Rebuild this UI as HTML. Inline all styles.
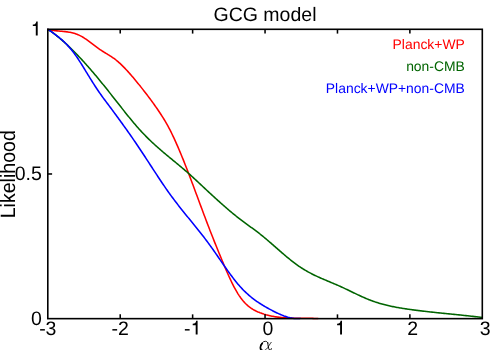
<!DOCTYPE html>
<html><head><meta charset="utf-8"><style>
html,body{margin:0;padding:0;background:#fff;}
body{width:500px;height:350px;overflow:hidden;}
svg{display:block;will-change:transform;}
text{font-family:"Liberation Sans",sans-serif;text-rendering:geometricPrecision;}
</style></head><body>
<svg width="500" height="350" viewBox="0 0 500 350">
<g fill="none" stroke-width="1.55" stroke-linejoin="round" stroke-linecap="round">
<path d="M48.00,29.40 L49.00,29.65 L50.00,29.87 L51.00,30.06 L52.00,30.24 L53.00,30.40 L54.00,30.54 L55.00,30.67 L56.00,30.78 L57.00,30.89 L58.00,30.99 L59.00,31.08 L60.00,31.17 L61.00,31.26 L62.00,31.35 L63.00,31.44 L64.00,31.54 L65.00,31.64 L66.00,31.76 L67.00,31.88 L68.00,32.03 L69.00,32.18 L70.00,32.36 L71.00,32.55 L72.00,32.77 L73.00,33.02 L74.00,33.29 L75.00,33.59 L76.00,33.92 L77.00,34.28 L78.00,34.68 L79.00,35.12 L80.00,35.60 L81.00,36.11 L82.00,36.67 L83.00,37.26 L84.00,37.89 L85.00,38.54 L86.00,39.22 L87.00,39.93 L88.00,40.65 L89.00,41.38 L90.00,42.13 L91.00,42.89 L92.00,43.65 L93.00,44.42 L94.00,45.18 L95.00,45.94 L96.00,46.70 L97.00,47.44 L98.00,48.16 L99.00,48.87 L100.00,49.56 L101.00,50.23 L102.00,50.87 L103.00,51.50 L104.00,52.12 L105.00,52.73 L106.00,53.33 L107.00,53.94 L108.00,54.54 L109.00,55.16 L110.00,55.79 L111.00,56.43 L112.00,57.09 L113.00,57.78 L114.00,58.49 L115.00,59.23 L116.00,60.01 L117.00,60.82 L118.00,61.67 L119.00,62.55 L120.00,63.45 L121.00,64.39 L122.00,65.35 L123.00,66.34 L124.00,67.36 L125.00,68.39 L126.00,69.45 L127.00,70.53 L128.00,71.63 L129.00,72.75 L130.00,73.88 L131.00,75.03 L132.00,76.19 L133.00,77.37 L134.00,78.55 L135.00,79.75 L136.00,80.95 L137.00,82.16 L138.00,83.39 L139.00,84.62 L140.00,85.86 L141.00,87.11 L142.00,88.37 L143.00,89.63 L144.00,90.91 L145.00,92.20 L146.00,93.50 L147.00,94.81 L148.00,96.13 L149.00,97.46 L150.00,98.81 L151.00,100.16 L152.00,101.53 L153.00,102.90 L154.00,104.29 L155.00,105.69 L156.00,107.11 L157.00,108.54 L158.00,109.99 L159.00,111.47 L160.00,112.96 L161.00,114.49 L162.00,116.05 L163.00,117.64 L164.00,119.27 L165.00,120.94 L166.00,122.65 L167.00,124.41 L168.00,126.21 L169.00,128.07 L170.00,129.98 L171.00,131.95 L172.00,133.97 L173.00,136.05 L174.00,138.17 L175.00,140.35 L176.00,142.56 L177.00,144.83 L178.00,147.13 L179.00,149.47 L180.00,151.84 L181.00,154.25 L182.00,156.69 L183.00,159.16 L184.00,161.66 L185.00,164.19 L186.00,166.73 L187.00,169.31 L188.00,171.90 L189.00,174.51 L190.00,177.13 L191.00,179.78 L192.00,182.43 L193.00,185.10 L194.00,187.78 L195.00,190.46 L196.00,193.15 L197.00,195.85 L198.00,198.54 L199.00,201.24 L200.00,203.94 L201.00,206.63 L202.00,209.32 L203.00,212.00 L204.00,214.67 L205.00,217.33 L206.00,219.98 L207.00,222.61 L208.00,225.23 L209.00,227.84 L210.00,230.42 L211.00,232.99 L212.00,235.54 L213.00,238.07 L214.00,240.59 L215.00,243.09 L216.00,245.58 L217.00,248.05 L218.00,250.51 L219.00,252.96 L220.00,255.39 L221.00,257.81 L222.00,260.22 L223.00,262.62 L224.00,264.99 L225.00,267.35 L226.00,269.68 L227.00,271.98 L228.00,274.24 L229.00,276.47 L230.00,278.64 L231.00,280.77 L232.00,282.84 L233.00,284.85 L234.00,286.80 L235.00,288.67 L236.00,290.47 L237.00,292.18 L238.00,293.81 L239.00,295.36 L240.00,296.82 L241.00,298.20 L242.00,299.51 L243.00,300.74 L244.00,301.89 L245.00,302.97 L246.00,303.98 L247.00,304.93 L248.00,305.81 L249.00,306.63 L250.00,307.40 L251.00,308.11 L252.00,308.77 L253.00,309.39 L254.00,309.97 L255.00,310.50 L256.00,311.01 L257.00,311.48 L258.00,311.92 L259.00,312.33 L260.00,312.73 L261.00,313.10 L262.00,313.46 L263.00,313.80 L264.00,314.13 L265.00,314.43 L266.00,314.73 L267.00,315.00 L268.00,315.26 L269.00,315.51 L270.00,315.74 L271.00,315.96 L272.00,316.17 L273.00,316.36 L274.00,316.54 L275.00,316.71 L276.00,316.86 L277.00,317.01 L278.00,317.14 L279.00,317.27 L280.00,317.38 L281.00,317.48 L282.00,317.58 L283.00,317.67 L284.00,317.74 L285.00,317.81 L286.00,317.88 L287.00,317.93 L288.00,317.98 L289.00,318.03 L290.00,318.07 L291.00,318.10 L292.00,318.13 L293.00,318.15 L294.00,318.17 L295.00,318.19 L296.00,318.20 L297.00,318.21 L298.00,318.22 L299.00,318.23 L300.00,318.23 L301.00,318.24 L302.00,318.24 L303.00,318.25 L304.00,318.25 L305.00,318.26 L306.00,318.26 L307.00,318.27 L308.00,318.28 L309.00,318.30 L310.00,318.31 L311.00,318.33 L312.00,318.35 L313.00,318.38 L314.00,318.41 L315.00,318.45 L316.00,318.45 L317.00,318.45 L318.00,318.45" stroke="#ff0000"/>
<path d="M48.00,29.40 L49.00,30.07 L50.00,30.76 L51.00,31.47 L52.00,32.19 L53.00,32.93 L54.00,33.68 L55.00,34.44 L56.00,35.22 L57.00,36.02 L58.00,36.82 L59.00,37.65 L60.00,38.48 L61.00,39.33 L62.00,40.19 L63.00,41.07 L64.00,41.95 L65.00,42.85 L66.00,43.77 L67.00,44.69 L68.00,45.63 L69.00,46.58 L70.00,47.54 L71.00,48.51 L72.00,49.49 L73.00,50.48 L74.00,51.49 L75.00,52.50 L76.00,53.53 L77.00,54.56 L78.00,55.60 L79.00,56.66 L80.00,57.72 L81.00,58.80 L82.00,59.88 L83.00,60.97 L84.00,62.07 L85.00,63.18 L86.00,64.29 L87.00,65.42 L88.00,66.55 L89.00,67.69 L90.00,68.84 L91.00,69.99 L92.00,71.15 L93.00,72.32 L94.00,73.50 L95.00,74.68 L96.00,75.87 L97.00,77.07 L98.00,78.27 L99.00,79.48 L100.00,80.69 L101.00,81.91 L102.00,83.14 L103.00,84.37 L104.00,85.60 L105.00,86.84 L106.00,88.09 L107.00,89.34 L108.00,90.60 L109.00,91.86 L110.00,93.12 L111.00,94.38 L112.00,95.65 L113.00,96.92 L114.00,98.19 L115.00,99.46 L116.00,100.73 L117.00,102.01 L118.00,103.28 L119.00,104.55 L120.00,105.82 L121.00,107.09 L122.00,108.36 L123.00,109.63 L124.00,110.89 L125.00,112.15 L126.00,113.40 L127.00,114.65 L128.00,115.89 L129.00,117.13 L130.00,118.36 L131.00,119.58 L132.00,120.79 L133.00,121.99 L134.00,123.17 L135.00,124.35 L136.00,125.52 L137.00,126.67 L138.00,127.80 L139.00,128.93 L140.00,130.03 L141.00,131.12 L142.00,132.20 L143.00,133.26 L144.00,134.30 L145.00,135.33 L146.00,136.35 L147.00,137.36 L148.00,138.35 L149.00,139.33 L150.00,140.29 L151.00,141.25 L152.00,142.19 L153.00,143.13 L154.00,144.05 L155.00,144.97 L156.00,145.87 L157.00,146.77 L158.00,147.66 L159.00,148.53 L160.00,149.41 L161.00,150.27 L162.00,151.13 L163.00,151.98 L164.00,152.83 L165.00,153.67 L166.00,154.51 L167.00,155.34 L168.00,156.17 L169.00,157.00 L170.00,157.82 L171.00,158.65 L172.00,159.47 L173.00,160.29 L174.00,161.11 L175.00,161.94 L176.00,162.76 L177.00,163.58 L178.00,164.41 L179.00,165.24 L180.00,166.07 L181.00,166.91 L182.00,167.75 L183.00,168.59 L184.00,169.44 L185.00,170.30 L186.00,171.16 L187.00,172.03 L188.00,172.90 L189.00,173.79 L190.00,174.68 L191.00,175.58 L192.00,176.49 L193.00,177.40 L194.00,178.32 L195.00,179.24 L196.00,180.17 L197.00,181.10 L198.00,182.03 L199.00,182.97 L200.00,183.90 L201.00,184.84 L202.00,185.78 L203.00,186.72 L204.00,187.66 L205.00,188.60 L206.00,189.53 L207.00,190.47 L208.00,191.40 L209.00,192.32 L210.00,193.25 L211.00,194.17 L212.00,195.09 L213.00,196.01 L214.00,196.92 L215.00,197.83 L216.00,198.74 L217.00,199.65 L218.00,200.55 L219.00,201.45 L220.00,202.34 L221.00,203.23 L222.00,204.12 L223.00,205.01 L224.00,205.89 L225.00,206.76 L226.00,207.63 L227.00,208.50 L228.00,209.36 L229.00,210.22 L230.00,211.07 L231.00,211.91 L232.00,212.74 L233.00,213.57 L234.00,214.40 L235.00,215.21 L236.00,216.02 L237.00,216.81 L238.00,217.60 L239.00,218.39 L240.00,219.16 L241.00,219.92 L242.00,220.68 L243.00,221.42 L244.00,222.16 L245.00,222.90 L246.00,223.63 L247.00,224.36 L248.00,225.09 L249.00,225.81 L250.00,226.54 L251.00,227.26 L252.00,227.99 L253.00,228.72 L254.00,229.46 L255.00,230.20 L256.00,230.95 L257.00,231.70 L258.00,232.46 L259.00,233.23 L260.00,234.01 L261.00,234.81 L262.00,235.61 L263.00,236.42 L264.00,237.25 L265.00,238.08 L266.00,238.91 L267.00,239.76 L268.00,240.61 L269.00,241.47 L270.00,242.33 L271.00,243.20 L272.00,244.07 L273.00,244.94 L274.00,245.82 L275.00,246.69 L276.00,247.57 L277.00,248.45 L278.00,249.32 L279.00,250.20 L280.00,251.07 L281.00,251.94 L282.00,252.80 L283.00,253.67 L284.00,254.52 L285.00,255.37 L286.00,256.22 L287.00,257.05 L288.00,257.88 L289.00,258.70 L290.00,259.52 L291.00,260.32 L292.00,261.11 L293.00,261.89 L294.00,262.65 L295.00,263.41 L296.00,264.15 L297.00,264.88 L298.00,265.59 L299.00,266.28 L300.00,266.96 L301.00,267.63 L302.00,268.27 L303.00,268.90 L304.00,269.52 L305.00,270.12 L306.00,270.70 L307.00,271.27 L308.00,271.83 L309.00,272.38 L310.00,272.91 L311.00,273.44 L312.00,273.95 L313.00,274.45 L314.00,274.95 L315.00,275.43 L316.00,275.91 L317.00,276.37 L318.00,276.83 L319.00,277.29 L320.00,277.74 L321.00,278.18 L322.00,278.61 L323.00,279.05 L324.00,279.48 L325.00,279.90 L326.00,280.32 L327.00,280.75 L328.00,281.17 L329.00,281.58 L330.00,282.00 L331.00,282.42 L332.00,282.84 L333.00,283.26 L334.00,283.68 L335.00,284.11 L336.00,284.54 L337.00,284.97 L338.00,285.41 L339.00,285.85 L340.00,286.30 L341.00,286.75 L342.00,287.21 L343.00,287.67 L344.00,288.14 L345.00,288.61 L346.00,289.09 L347.00,289.56 L348.00,290.04 L349.00,290.52 L350.00,291.01 L351.00,291.49 L352.00,291.97 L353.00,292.46 L354.00,292.94 L355.00,293.42 L356.00,293.90 L357.00,294.37 L358.00,294.84 L359.00,295.31 L360.00,295.78 L361.00,296.24 L362.00,296.69 L363.00,297.14 L364.00,297.58 L365.00,298.01 L366.00,298.44 L367.00,298.86 L368.00,299.27 L369.00,299.67 L370.00,300.06 L371.00,300.44 L372.00,300.81 L373.00,301.17 L374.00,301.52 L375.00,301.86 L376.00,302.20 L377.00,302.52 L378.00,302.83 L379.00,303.14 L380.00,303.43 L381.00,303.72 L382.00,304.00 L383.00,304.28 L384.00,304.54 L385.00,304.80 L386.00,305.05 L387.00,305.30 L388.00,305.53 L389.00,305.76 L390.00,305.99 L391.00,306.20 L392.00,306.42 L393.00,306.62 L394.00,306.82 L395.00,307.02 L396.00,307.21 L397.00,307.39 L398.00,307.57 L399.00,307.75 L400.00,307.92 L401.00,308.09 L402.00,308.25 L403.00,308.41 L404.00,308.57 L405.00,308.72 L406.00,308.87 L407.00,309.02 L408.00,309.17 L409.00,309.31 L410.00,309.45 L411.00,309.59 L412.00,309.72 L413.00,309.86 L414.00,309.99 L415.00,310.12 L416.00,310.25 L417.00,310.38 L418.00,310.51 L419.00,310.63 L420.00,310.75 L421.00,310.87 L422.00,310.99 L423.00,311.11 L424.00,311.23 L425.00,311.34 L426.00,311.46 L427.00,311.57 L428.00,311.68 L429.00,311.80 L430.00,311.91 L431.00,312.02 L432.00,312.12 L433.00,312.23 L434.00,312.34 L435.00,312.44 L436.00,312.55 L437.00,312.65 L438.00,312.76 L439.00,312.86 L440.00,312.96 L441.00,313.06 L442.00,313.17 L443.00,313.27 L444.00,313.37 L445.00,313.47 L446.00,313.57 L447.00,313.67 L448.00,313.77 L449.00,313.87 L450.00,313.97 L451.00,314.07 L452.00,314.17 L453.00,314.27 L454.00,314.37 L455.00,314.47 L456.00,314.57 L457.00,314.67 L458.00,314.78 L459.00,314.88 L460.00,314.98 L461.00,315.08 L462.00,315.19 L463.00,315.29 L464.00,315.40 L465.00,315.50 L466.00,315.61 L467.00,315.72 L468.00,315.82 L469.00,315.93 L470.00,316.04 L471.00,316.16 L472.00,316.27 L473.00,316.38 L474.00,316.50 L475.00,316.61 L476.00,316.73 L477.00,316.85 L478.00,316.97 L479.00,317.09 L480.00,317.21 L481.00,317.34 L482.00,317.46" stroke="#006400"/>
<path d="M48.00,29.40 L49.00,30.07 L50.00,30.74 L51.00,31.42 L52.00,32.11 L53.00,32.82 L54.00,33.54 L55.00,34.27 L56.00,35.02 L57.00,35.79 L58.00,36.58 L59.00,37.38 L60.00,38.22 L61.00,39.07 L62.00,39.95 L63.00,40.86 L64.00,41.80 L65.00,42.77 L66.00,43.77 L67.00,44.80 L68.00,45.87 L69.00,46.98 L70.00,48.12 L71.00,49.30 L72.00,50.53 L73.00,51.79 L74.00,53.10 L75.00,54.46 L76.00,55.86 L77.00,57.31 L78.00,58.79 L79.00,60.31 L80.00,61.86 L81.00,63.43 L82.00,65.03 L83.00,66.64 L84.00,68.27 L85.00,69.91 L86.00,71.54 L87.00,73.18 L88.00,74.82 L89.00,76.45 L90.00,78.07 L91.00,79.67 L92.00,81.27 L93.00,82.85 L94.00,84.41 L95.00,85.96 L96.00,87.49 L97.00,89.00 L98.00,90.49 L99.00,91.95 L100.00,93.39 L101.00,94.81 L102.00,96.20 L103.00,97.58 L104.00,98.94 L105.00,100.29 L106.00,101.63 L107.00,102.96 L108.00,104.30 L109.00,105.64 L110.00,106.98 L111.00,108.32 L112.00,109.66 L113.00,111.01 L114.00,112.36 L115.00,113.72 L116.00,115.07 L117.00,116.44 L118.00,117.80 L119.00,119.17 L120.00,120.55 L121.00,121.92 L122.00,123.31 L123.00,124.70 L124.00,126.09 L125.00,127.49 L126.00,128.89 L127.00,130.30 L128.00,131.72 L129.00,133.14 L130.00,134.56 L131.00,136.00 L132.00,137.43 L133.00,138.88 L134.00,140.33 L135.00,141.79 L136.00,143.26 L137.00,144.73 L138.00,146.21 L139.00,147.70 L140.00,149.20 L141.00,150.70 L142.00,152.21 L143.00,153.73 L144.00,155.25 L145.00,156.78 L146.00,158.31 L147.00,159.85 L148.00,161.38 L149.00,162.92 L150.00,164.46 L151.00,166.00 L152.00,167.54 L153.00,169.08 L154.00,170.61 L155.00,172.15 L156.00,173.67 L157.00,175.20 L158.00,176.72 L159.00,178.23 L160.00,179.73 L161.00,181.23 L162.00,182.72 L163.00,184.20 L164.00,185.67 L165.00,187.13 L166.00,188.57 L167.00,190.01 L168.00,191.43 L169.00,192.83 L170.00,194.23 L171.00,195.60 L172.00,196.96 L173.00,198.31 L174.00,199.65 L175.00,200.97 L176.00,202.28 L177.00,203.58 L178.00,204.87 L179.00,206.15 L180.00,207.42 L181.00,208.68 L182.00,209.94 L183.00,211.19 L184.00,212.43 L185.00,213.67 L186.00,214.91 L187.00,216.14 L188.00,217.37 L189.00,218.60 L190.00,219.82 L191.00,221.05 L192.00,222.28 L193.00,223.51 L194.00,224.74 L195.00,225.97 L196.00,227.21 L197.00,228.45 L198.00,229.70 L199.00,230.95 L200.00,232.22 L201.00,233.48 L202.00,234.76 L203.00,236.05 L204.00,237.34 L205.00,238.65 L206.00,239.96 L207.00,241.29 L208.00,242.64 L209.00,243.99 L210.00,245.37 L211.00,246.75 L212.00,248.15 L213.00,249.56 L214.00,250.99 L215.00,252.42 L216.00,253.86 L217.00,255.30 L218.00,256.75 L219.00,258.20 L220.00,259.65 L221.00,261.10 L222.00,262.55 L223.00,264.00 L224.00,265.44 L225.00,266.87 L226.00,268.30 L227.00,269.71 L228.00,271.11 L229.00,272.50 L230.00,273.88 L231.00,275.24 L232.00,276.58 L233.00,277.90 L234.00,279.19 L235.00,280.47 L236.00,281.72 L237.00,282.95 L238.00,284.14 L239.00,285.31 L240.00,286.45 L241.00,287.55 L242.00,288.63 L243.00,289.67 L244.00,290.68 L245.00,291.66 L246.00,292.62 L247.00,293.55 L248.00,294.45 L249.00,295.32 L250.00,296.18 L251.00,297.00 L252.00,297.81 L253.00,298.59 L254.00,299.35 L255.00,300.09 L256.00,300.81 L257.00,301.52 L258.00,302.20 L259.00,302.87 L260.00,303.52 L261.00,304.16 L262.00,304.78 L263.00,305.39 L264.00,305.99 L265.00,306.58 L266.00,307.15 L267.00,307.72 L268.00,308.27 L269.00,308.82 L270.00,309.36 L271.00,309.89 L272.00,310.42 L273.00,310.94 L274.00,311.46 L275.00,311.96 L276.00,312.46 L277.00,312.94 L278.00,313.41 L279.00,313.87 L280.00,314.31 L281.00,314.74 L282.00,315.15 L283.00,315.54 L284.00,315.92 L285.00,316.27 L286.00,316.60 L287.00,316.91 L288.00,317.20 L289.00,317.46 L290.00,317.70 L291.00,317.91 L292.00,318.09 L293.00,318.24 L294.00,318.36 L295.00,318.45 L296.00,318.45 L297.00,318.45 L298.00,318.45 L299.00,318.45 L300.00,318.40" stroke="#0000ff"/>
</g>
<g stroke="#000" stroke-width="1.55" fill="none"><line x1="120.22" y1="318.65" x2="120.22" y2="314.34999999999997"/><line x1="120.22" y1="29.3" x2="120.22" y2="33.6"/><line x1="192.63" y1="318.65" x2="192.63" y2="314.34999999999997"/><line x1="192.63" y1="29.3" x2="192.63" y2="33.6"/><line x1="265.05" y1="318.65" x2="265.05" y2="314.34999999999997"/><line x1="265.05" y1="29.3" x2="265.05" y2="33.6"/><line x1="337.47" y1="318.65" x2="337.47" y2="314.34999999999997"/><line x1="337.47" y1="29.3" x2="337.47" y2="33.6"/><line x1="409.88" y1="318.65" x2="409.88" y2="314.34999999999997"/><line x1="409.88" y1="29.3" x2="409.88" y2="33.6"/><line x1="47.8" y1="173.975" x2="52.099999999999994" y2="173.975"/></g>
<rect x="47.8" y="29.3" width="434.5" height="289.34999999999997" fill="none" stroke="#000" stroke-width="1.6"/>
<g font-size="19.5" fill="#000">
<text x="265" y="21" text-anchor="middle">GCG model</text>
<text x="47.80" y="334.9" text-anchor="middle">-3</text><text x="120.22" y="334.9" text-anchor="middle">-2</text><text x="183.97" y="334.9">-</text><path transform="translate(197.6,334.5) scale(1,0.975)" d="M0,0 L0,-14 L-1.4,-14 C-1.6,-12.1 -2.7,-10.9 -4.9,-10.9 L-4.9,-9.4 L-1.9,-9.4 L-1.9,0 Z"/><text x="267.85" y="334.9" text-anchor="middle">0</text><path transform="translate(342.0,334.5) scale(1,0.975)" d="M0,0 L0,-14 L-1.4,-14 C-1.6,-12.1 -2.7,-10.9 -4.9,-10.9 L-4.9,-9.4 L-1.9,-9.4 L-1.9,0 Z"/><text x="412.68" y="334.9" text-anchor="middle">2</text><text x="485.10" y="334.9" text-anchor="middle">3</text>
<path transform="translate(37.7,35.4)" d="M0,0 L0,-14 L-1.4,-14 C-1.6,-12.1 -2.7,-10.9 -4.9,-10.9 L-4.9,-9.4 L-1.9,-9.4 L-1.9,0 Z"/>
<text x="41.8" y="180.4" text-anchor="end">0.5</text>
<text x="41.8" y="325.4" text-anchor="end">0</text>
<text transform="translate(14.9,174.2) rotate(-90) scale(1,1.06)" text-anchor="middle" font-size="19.6">Likelihood</text>
</g>
<g font-size="13.9" text-anchor="end">
<text x="464.8" y="48.6" fill="#ff0000">Planck+WP</text>
<text x="464.8" y="70.8" fill="#006400">non-CMB</text>
<text x="464.8" y="92.6" fill="#0000ff">Planck+WP+non-CMB</text>
</g>
<g fill="none" stroke="#000" stroke-linecap="round" stroke-linejoin="round" transform="translate(0.3,0.4)">
<path d="M267.6,342.6 C267.2,341.4 266.2,340.9 265.0,340.9 C262.6,340.9 260.9,343.2 260.4,345.6" stroke-width="0.9"/>
<path d="M261.9,342.9 C260.7,344.2 260.1,345.8 260.1,347.2 C260.1,349.2 261.3,350.4 263.0,350.4" stroke-width="1.7"/>
<path d="M263.0,350.4 C265.3,350.4 267.4,347.6 268.6,345.4 C269.4,344.0 270.2,342.8 270.9,341.9" stroke-width="0.8"/>
<path d="M267.4,342.2 C267.8,345.4 268.1,348.4 269.2,349.6 C269.9,350.2 270.8,349.6 271.1,348.3" stroke-width="1.0"/>
</g>
</svg>
</body></html>
